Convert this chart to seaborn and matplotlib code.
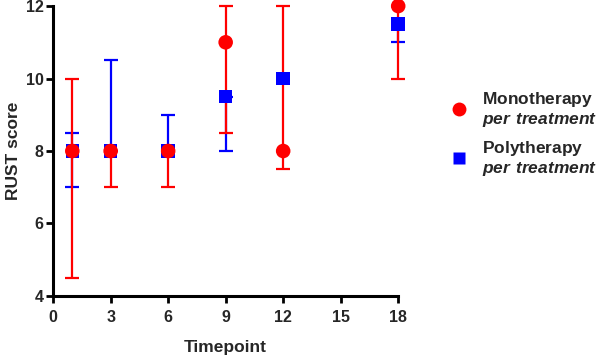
import pandas as pd
import seaborn as sns
import matplotlib.pyplot as plt
from matplotlib.lines import Line2D

# === DATA ===
timepoints = [1, 3, 6, 9, 12, 18]
mono_score = [8, 8, 8, 11, 8, 12]
mono_low = [4.5, 7, 7, 8.5, 7.5, 10]
mono_high = [10, 8, 8, 12, 12, 12]
poly_score = [8, 8, 8, 9.5, 10, 11.5]
poly_low = [7, 8, 8, 8, 10, 11]
poly_high = [8.5, 10.5, 9, 9.5, 10, 11.5]
x_ticks = [0, 3, 6, 9, 12, 15, 18]
y_ticks = [4, 6, 8, 10, 12]

RED = "#ff0000"
BLUE = "#0000ff"

sns.set_style("ticks")
plt.rcParams["font.family"] = ["Liberation Sans", "DejaVu Sans"]
plt.rcParams["font.weight"] = "bold"
plt.rcParams["mathtext.fontset"] = "custom"
plt.rcParams["mathtext.bf"] = "Liberation Sans:bold"
plt.rcParams["mathtext.bfit"] = "Liberation Sans:italic:bold"

mono = pd.DataFrame({"Timepoint": timepoints, "score": mono_score,
                     "lo": mono_low, "hi": mono_high})
poly = pd.DataFrame({"Timepoint": timepoints, "score": poly_score,
                     "lo": poly_low, "hi": poly_high})

fig = plt.figure(figsize=(5.97, 3.57), dpi=100)
ax = fig.add_axes([0.089, 0.171, 0.578, 0.812])

# error bars: blue first, red on top
for df, col in [(poly, BLUE), (mono, RED)]:
    eb = ax.errorbar(df["Timepoint"], df["score"],
                     yerr=[df["score"] - df["lo"], df["hi"] - df["score"]],
                     fmt="none", ecolor=col, elinewidth=1.6, capsize=5, capthick=1.6,
                     zorder=2)
    for art in eb.lines[1] + eb.lines[2]:
        art.set_clip_on(False)

sns.scatterplot(data=poly, x="Timepoint", y="score", marker="s", s=95,
                color=BLUE, edgecolor="none", ax=ax, zorder=3, legend=False,
                clip_on=False)
sns.scatterplot(data=mono, x="Timepoint", y="score", marker="o", s=110,
                color=RED, edgecolor="none", ax=ax, zorder=4, legend=False,
                clip_on=False)

ax.set_xlim(0, 18)
ax.set_ylim(4, 12)
ax.set_xticks(x_ticks)
ax.set_yticks(y_ticks)
ax.set_xlabel("Timepoint", fontsize=12.5, fontweight="bold", labelpad=11)
ax.set_ylabel("RUST score", fontsize=12.5, fontweight="bold", labelpad=3)
ax.tick_params(width=2, length=5, labelsize=11.5, color="black")
ax.tick_params(axis="x", pad=5)
ax.tick_params(axis="y", pad=2)
for lab in ax.get_xticklabels() + ax.get_yticklabels():
    lab.set_fontweight("bold")
sns.despine(ax=ax)
for s in ["left", "bottom"]:
    ax.spines[s].set_linewidth(2.2)
    ax.spines[s].set_color("black")

handles = [
    Line2D([], [], ls="none", marker="o", markersize=10, color=RED, markeredgecolor="none"),
    Line2D([], [], ls="none", marker="s", markersize=9, color=BLUE, markeredgecolor="none"),
]
labels = [
    r"$\mathbf{Monotherapy}$" + "\n" + r"$\mathbfit{per\ treatment}$",
    r"$\mathbf{Polytherapy}$" + "\n" + r"$\mathbfit{per\ treatment}$",
]
fig.legend(handles, labels, loc="center left", bbox_to_anchor=(0.728, 0.625),
           frameon=False, fontsize=12.5, handletextpad=0.85, labelspacing=0.55,
           handlelength=1.0)

fig.savefig("out.png", dpi=100)
